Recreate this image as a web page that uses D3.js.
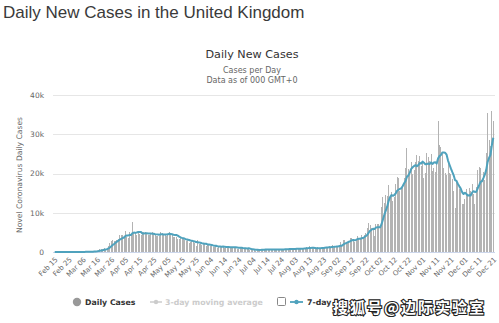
<!DOCTYPE html>
<html>
<head>
<meta charset="utf-8">
<script src="https://cdn.jsdelivr.net/npm/d3@7/dist/d3.min.js"></script>
<style>
  html, body { margin: 0; padding: 0; background: #fff; }
  svg { display: block; }
</style>
</head>
<body>
<svg id="chart" width="499" height="323"></svg>
<script>
// Daily new cases, United Kingdom, 2020 (one array per month, first day listed first)
const casesFeb = [0, 0, 0, 0, 0, 0, 0, 0, 0, 4, 0, 0, 2, 3, 3]; // from Feb 15
const casesMar = [12, 4, 11, 34, 30, 48, 43, 67, 48, 61, 52, 134, 208, 342, 251, 152, 407, 676, 643, 714,
  1035, 665, 967, 1600, 2300, 2900, 3100, 2800, 2700, 3000, 3400];
const casesApr = [4324, 4244, 4450, 3735, 5400, 3802, 3634, 5000, 4344, 7600, 4900, 4800, 4342, 4900, 4603,
  4417, 5100, 5000, 5150, 4476, 4301, 4351, 4483, 5000, 4713, 4463, 4109, 3996, 4076, 5200];
const casesMay = [4900, 4606, 4339, 3985, 4406, 5100, 4700, 4449, 3896, 3923, 3777, 3403, 3242, 3446, 3360,
  3251, 3042, 2684, 3134, 2412, 2615, 2887, 2559, 2405, 1625, 3043, 2004, 2013, 1887, 2245, 1936];
const casesJun = [1570, 1871, 1805, 1650, 1557, 1326, 1205, 1741, 1003, 1266, 1541, 1425, 1514, 1056, 1056,
  1279, 1115, 1218, 1346, 1295, 1221, 958, 874, 653, 1118, 1380, 890, 901, 815, 689];
const casesJul = [829, 576, 544, 624, 516, 352, 581, 630, 512, 642, 820, 650, 530, 538, 598, 642, 687, 827,
  726, 580, 445, 560, 769, 767, 787, 685, 747, 581, 763, 846, 880];
const casesAug = [744, 938, 743, 762, 892, 950, 871, 758, 1062, 1040, 1148, 1009, 1441, 713, 1012, 1040, 713,
  812, 1182, 1089, 1033, 1288, 1041, 1048, 1184, 1274, 1522, 1276, 1715, 1108, 1406];
const casesSep = [1295, 1508, 1735, 2500, 1813, 2988, 2948, 2460, 2659, 2919, 3539, 3497, 3330, 2621, 3105,
  3991, 3395, 3679, 4322, 3899, 4368, 4926, 6178, 7400, 6874, 6042, 5693, 4044, 7143, 7108];
const casesOct = [7100, 7000, 11500, 14000, 12600, 14500, 14200, 17000, 13900, 15200, 12900, 13900, 17200,
  19000, 18900, 15600, 16200, 16900, 18800, 21300, 26600, 21200, 20500, 23000, 19800, 20900, 22900, 24700,
  23100, 24400, 21900];
const casesNov = [23254, 18950, 20018, 25177, 24141, 23287, 24957, 20572, 21350, 20412, 22950, 33470, 27301,
  26860, 24962, 21363, 20051, 19609, 22915, 20252, 19875, 18662, 15450, 11299, 18213, 17555, 16022, 15871,
  12155, 12330];
const casesDec = [13430, 16170, 14879, 16298, 15539, 17272, 14718, 12282, 16578, 20964, 21672, 21502, 18447,
  20263, 18450, 25161, 35383, 28507, 27052, 35928, 33364]; // to Dec 21

const firstDay = new Date(2020, 1, 15);
const yTicks = [0, 10000, 20000, 30000, 40000];
const yTickLabels = ["0", "10k", "20k", "30k", "40k"];
const xTickLabels = ["Feb 15", "Feb 25", "Mar 06", "Mar 16", "Mar 26", "Apr 05", "Apr 15", "Apr 25",
  "May 05", "May 15", "May 25", "Jun 04", "Jun 14", "Jun 24", "Jul 04", "Jul 14", "Jul 24", "Aug 03",
  "Aug 13", "Aug 23", "Sep 02", "Sep 12", "Sep 22", "Oct 02", "Oct 12", "Oct 22", "Nov 01", "Nov 11",
  "Nov 21", "Dec 01", "Dec 11", "Dec 21"];

const daily = [].concat(casesFeb, casesMar, casesApr, casesMay, casesJun, casesJul, casesAug,
  casesSep, casesOct, casesNov, casesDec);
const days = daily.map((v, i) => d3.timeDay.offset(firstDay, i));
const rows = daily.map((v, i) => ({ date: days[i], value: v }));

// trailing 7-day moving average of the daily counts
const avg7 = rows.map((r, i) => ({
  date: r.date,
  value: d3.mean(daily.slice(Math.max(0, i - 6), i + 1))
}));

const parseLabel = d3.timeParse("%b %d %Y");
const xTickDates = xTickLabels.map(s => parseLabel(s + " 2020"));

const svg = d3.select("#chart");
const plot = { left: 54, right: 494, top: 95, bottom: 252 };
const gray = "#666666";
const chartFont = "'DejaVu Sans', Verdana, sans-serif";

const x = d3.scaleTime()
  .domain([d3.timeHour.offset(days[0], -12), d3.timeHour.offset(days[days.length - 1], 12)])
  .range([plot.left, plot.right]);
const y = d3.scaleLinear().domain([0, 40000]).range([plot.bottom, plot.top]);

// page heading
svg.append("text")
  .attr("x", 3).attr("y", 18)
  .attr("font-family", "'Liberation Sans', Arial, sans-serif")
  .attr("font-size", 17)
  .attr("fill", "#3a3a3a")
  .text("Daily New Cases in the United Kingdom");

// chart title and subtitles
svg.append("text")
  .attr("x", 252).attr("y", 58).attr("text-anchor", "middle")
  .attr("font-family", chartFont).attr("font-size", 11.2).attr("fill", "#333")
  .text("Daily New Cases");
svg.append("text")
  .attr("x", 252).attr("y", 73).attr("text-anchor", "middle")
  .attr("font-family", chartFont).attr("font-size", 8).attr("fill", gray)
  .text("Cases per Day");
svg.append("text")
  .attr("x", 252).attr("y", 83).attr("text-anchor", "middle")
  .attr("font-family", chartFont).attr("font-size", 8).attr("fill", gray)
  .text("Data as of 000 GMT+0");

// y axis: gridlines and labels
const yAxis = d3.axisLeft(y)
  .tickValues(yTicks)
  .tickFormat((d, i) => yTickLabels[i])
  .tickSize(-(plot.right + 1 - 53))
  .tickPadding(9);
const gy = svg.append("g").attr("transform", "translate(53,0)").call(yAxis);
gy.select(".domain").remove();
gy.selectAll(".tick line").attr("stroke", "#e6e6e6").attr("shape-rendering", "crispEdges");
gy.selectAll(".tick text")
  .attr("font-family", chartFont).attr("font-size", 7.5).attr("fill", gray);

svg.append("text")
  .attr("transform", "translate(22," + 175 + ") rotate(-90)")
  .attr("text-anchor", "middle")
  .attr("font-family", chartFont).attr("font-size", 7.6).attr("fill", gray)
  .text("Novel Coronavirus Daily Cases");

// x axis line and rotated date labels
const xAxis = d3.axisBottom(x)
  .tickValues(xTickDates)
  .tickFormat((d, i) => xTickLabels[i])
  .tickSize(0)
  .tickPadding(0);
const gx = svg.append("g").attr("transform", "translate(0," + plot.bottom + ")").call(xAxis);
gx.select(".domain").attr("stroke", "#ccd6eb").attr("shape-rendering", "crispEdges")
  .attr("d", "M53,0.5H" + (plot.right + 1));
gx.selectAll(".tick text")
  .attr("font-family", chartFont).attr("font-size", 7).attr("fill", gray)
  .attr("text-anchor", "end")
  .attr("dy", 0).attr("y", 0)
  .attr("transform", "translate(3,8) rotate(-45)");

// daily bars
svg.append("g")
  .selectAll("rect")
  .data(rows)
  .join("rect")
  .attr("x", d => Math.round(x(d.date) - 0.5))
  .attr("width", 1)
  .attr("y", d => y(d.value))
  .attr("height", d => plot.bottom - y(d.value))
  .attr("fill", "#b3b3b3")
  .attr("shape-rendering", "crispEdges");

// 7-day moving average
const lineColor = "#4fa2bd";
svg.append("path")
  .datum(avg7)
  .attr("fill", "none")
  .attr("stroke", lineColor)
  .attr("stroke-width", 2)
  .attr("stroke-linejoin", "round")
  .attr("d", d3.line().x(d => x(d.date)).y(d => y(d.value)));

// legend
const legend = svg.append("g").attr("font-family", chartFont).attr("font-size", 7.8).attr("font-weight", "bold");
legend.append("circle").attr("cx", 77).attr("cy", 302).attr("r", 4.2).attr("fill", "#999");
legend.append("text").attr("x", 85).attr("y", 305).attr("fill", "#333").text("Daily Cases");

legend.append("line").attr("x1", 150).attr("x2", 162).attr("y1", 302).attr("y2", 302)
  .attr("stroke", "#ccc").attr("stroke-width", 1.5);
legend.append("circle").attr("cx", 156).attr("cy", 302).attr("r", 2.2).attr("fill", "#ccc");
legend.append("text").attr("x", 165).attr("y", 305).attr("fill", "#cccccc").text("3-day moving average");

legend.append("rect").attr("x", 277.5).attr("y", 297.5).attr("width", 8).attr("height", 8).attr("rx", 1)
  .attr("fill", "#fff").attr("stroke", "#888");
legend.append("line").attr("x1", 290).attr("x2", 303).attr("y1", 302).attr("y2", 302)
  .attr("stroke", lineColor).attr("stroke-width", 1.8);
legend.append("circle").attr("cx", 296.5).attr("cy", 302).attr("r", 2.2).attr("fill", lineColor);
legend.append("text").attr("x", 307).attr("y", 305).attr("fill", "#333").text("7-day moving average");

// publisher mark over the lower right corner
const mark = svg.append("g");
mark.append("rect").attr("x", 332).attr("y", 296).attr("width", 160).attr("height", 22).attr("fill", "#fff");
mark.append("text")
  .attr("x", 333).attr("y", 313)
  .attr("font-family", "'Noto Sans CJK SC', sans-serif")
  .attr("font-size", 15).attr("font-weight", "bold")
  .attr("letter-spacing", 2)
  .attr("fill", "#fff").attr("stroke", "#222").attr("stroke-width", 2.2)
  .attr("paint-order", "stroke")
  .text("搜狐号@边际实验室");
</script>
</body>
</html>
